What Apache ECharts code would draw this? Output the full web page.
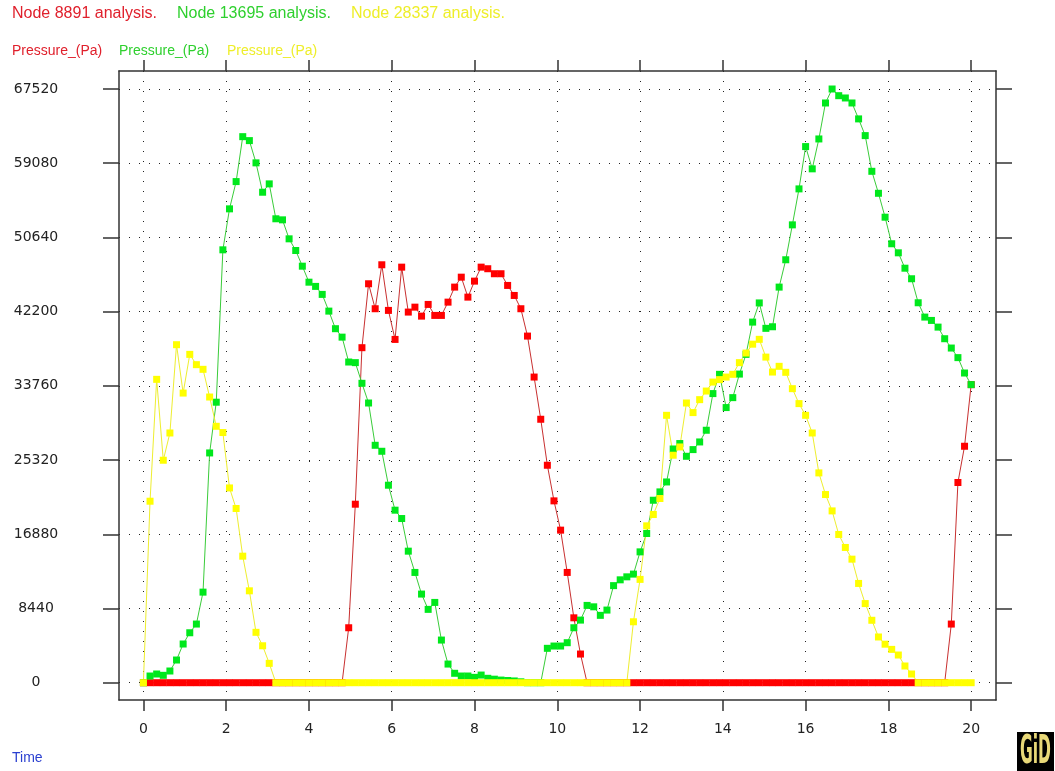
<!DOCTYPE html>
<html>
<head>
<meta charset="utf-8">
<script src="https://cdn.jsdelivr.net/npm/echarts@6/dist/echarts.min.js"></script>
<style>
html,body{margin:0;padding:0;background:#fff;}
#chart{width:1055px;height:771px;}
</style>
</head>
<body>
<div id="chart"></div>
<script>
// Time values (s)
var time = [
0,0.16,0.32,0.48,0.64,0.8,0.96,1.12,1.28,1.44,1.6,1.76,1.92,2.08,2.24,2.4,2.56,2.72,2.88,3.04,3.2,3.36,3.52,3.68,3.84,
4,4.16,4.32,4.48,4.64,4.8,4.96,5.12,5.28,5.44,5.6,5.76,5.92,6.08,6.24,6.4,6.56,6.72,6.88,7.04,7.2,7.36,7.52,7.68,7.84,
8,8.16,8.32,8.48,8.64,8.8,8.96,9.12,9.28,9.44,9.6,9.76,9.92,10.08,10.24,10.4,10.56,10.72,10.88,11.04,11.2,11.36,11.52,11.68,11.84,
12,12.16,12.32,12.48,12.64,12.8,12.96,13.12,13.28,13.44,13.6,13.76,13.92,14.08,14.24,14.4,14.56,14.72,14.88,15.04,15.2,15.36,15.52,15.68,15.84,
16,16.16,16.32,16.48,16.64,16.8,16.96,17.12,17.28,17.44,17.6,17.76,17.92,18.08,18.24,18.4,18.56,18.72,18.88,19.04,19.2,19.36,19.52,19.68,19.84,
20
];

// Node 8891 Pressure_(Pa)
var node8891 = [
0,0,0,0,0,0,0,0,0,0,
0,0,0,0,0,0,0,0,0,0,
0,0,0,0,0,0,0,0,0,0,
0,6250,20300,38100,45370,42530,47530,42340,39040,47260,
42150,42710,41690,43020,41770,41770,43280,44990,46120,43850,
45670,47260,47080,46510,46510,45180,44040,42530,39420,34760,
29960,24730,20680,17350,12540,7380,3260,0,0,0,
0,0,0,0,0,0,0,0,0,0,
0,0,0,0,0,0,0,0,0,0,
0,0,0,0,0,0,0,0,0,0,
0,0,0,0,0,0,0,0,0,0,
0,0,0,0,0,0,0,0,0,0,
0,0,6670,22770,26890,33900
];

// Node 13695 Pressure_(Pa)
var node13695 = [
0,760,990,840,1330,2580,4400,5680,6670,10300,
26130,31900,49230,53890,56990,62100,61650,59120,55780,56730,
52760,52640,50480,49150,47370,45550,45070,44160,42260,40260,
39300,36470,36400,34050,31810,27000,26320,22460,19620,18670,
14960,12540,10080,8340,9130,4850,2120,1070,760,760,
610,870,500,400,300,250,200,100,0,0,
0,3910,4170,4170,4550,6250,7120,8790,8630,7660,
8260,11040,11700,12040,12350,14880,16970,20750,21700,22830,
26580,27200,25750,26510,27380,28710,32880,35070,31290,32420,
35100,37340,41010,43190,40300,40480,44990,48100,52070,56160,
60970,58440,61840,65930,67520,66760,66500,65930,64120,62220,
58160,55660,52940,49920,48890,47140,45940,43210,41580,41200,
40440,39120,38060,36970,35220,33900
];

// Node 28337 Pressure_(Pa)
var node28337 = [
0,20640,34500,25300,28400,38440,32940,37340,36170,35640,
32490,29160,28450,22150,19810,14390,10450,5730,4200,2200,
0,0,0,0,0,0,0,0,0,0,
0,0,0,0,0,0,0,0,0,0,
0,0,0,0,0,0,0,0,0,0,
0,0,0,0,0,0,0,0,0,0,
0,0,0,0,0,0,0,0,0,0,
0,0,0,0,6930,11750,17840,19130,20950,30410,
25870,26810,31810,30720,32190,33170,34190,34470,34760,35070,
36400,37490,38500,39050,37030,35330,35980,35300,33440,31740,
30410,28400,23860,21400,19540,16860,15380,14050,11290,9000,
7100,5200,4380,3790,3150,1900,990,0,0,0,
0,0,0,0,0,0
];

var xTicks = [0,2,4,6,8,10,12,14,16,18,20];
var yTicks = [0,8440,16880,25320,33760,42200,50640,59080,67520];

function pairs(vals){ return time.map(function(t,i){ return [t, vals[i]]; }); }

var FONT = 'DejaVu Sans';
var frameLine = {show:true, onZero:false, lineStyle:{color:'#333', width:1.5}};
var dotted = {show:true, lineStyle:{color:'#222', width:1, type:[1,9]}};

function xAx(pos, showLabel){
  return {
    type:'value', min:-0.59, max:20.6, position:pos,
    axisLine: frameLine,
    axisTick:{show:true, customValues:xTicks, length:11, lineStyle:{color:'#333', width:1.5}},
    axisLabel:{show:showLabel, customValues:xTicks, margin:22, fontSize:14, fontFamily:FONT, color:'#222',
      formatter:function(v){return String(v);}},
    splitLine: pos==='bottom' ? dotted : {show:false}
  };
}
function yAx(pos, showLabel){
  return {
    type:'value', min:-1967, max:69567, position:pos,
    axisLine: frameLine,
    axisTick:{show:true, customValues:yTicks, length:16, lineStyle:{color:'#333', width:1.5}},
    axisLabel:{show:showLabel, customValues:yTicks, margin:83, align:'center', fontSize:14, fontFamily:FONT, color:'#222',
      formatter:function(v){return String(v);}},
    splitLine: pos==='left' ? dotted : {show:false}
  };
}

function ser(name, vals, symColor, lineColor){
  return {
    name:name, type:'line', data:pairs(vals), xAxisIndex:0, yAxisIndex:0,
    symbol:'rect', symbolSize:7, showAllSymbol:true,
    itemStyle:{color:symColor},
    lineStyle:{color:lineColor, width:1},
    emphasis:{disabled:true}
  };
}

var chart = echarts.init(document.getElementById('chart'), null, {renderer:'canvas'});
chart.setOption({
  animation:false,
  backgroundColor:'#ffffff',
  grid:{left:119, right:59, top:71, bottom:71, containLabel:false},
  xAxis:[xAx('bottom', true), xAx('top', false)],
  yAxis:[yAx('left', true), yAx('right', false)],
  series:[
    ser('Node 8891', node8891, '#ff0000', '#c83030'),
    ser('Node 13695', node13695, '#00e81c', '#3acc3a'),
    ser('Node 28337', node28337, '#ffff00', '#eeee30')
  ],
  graphic:[
    {type:'text', left:12, top:6, style:{text:'Node 8891 analysis.', fill:'#e0202c', font:'16px "Liberation Sans"'}},
    {type:'text', left:177, top:6, style:{text:'Node 13695 analysis.', fill:'#2ed02e', font:'16px "Liberation Sans"'}},
    {type:'text', left:351, top:6, style:{text:'Node 28337 analysis.', fill:'#eeee2a', font:'16px "Liberation Sans"'}},
    {type:'text', left:12, top:44, style:{text:'Pressure_(Pa)', fill:'#e0202c', font:'14px "Liberation Sans"'}},
    {type:'text', left:119, top:44, style:{text:'Pressure_(Pa)', fill:'#2ed02e', font:'14px "Liberation Sans"'}},
    {type:'text', left:227, top:44, style:{text:'Pressure_(Pa)', fill:'#eeee2a', font:'14px "Liberation Sans"'}},
    {type:'text', left:12, top:751, style:{text:'Time', fill:'#2a3fd0', font:'14px "Liberation Sans"'}},
    {type:'rect', left:1017, top:732, shape:{width:37, height:39}, style:{fill:'#000'}},
    {type:'text', x:1020, y:734, scaleX:0.72, scaleY:1.6, style:{text:'GiD', fill:'#e8d878', font:'bold 24px "DejaVu Sans Condensed"'}}
  ]
});
</script>
</body>
</html>
